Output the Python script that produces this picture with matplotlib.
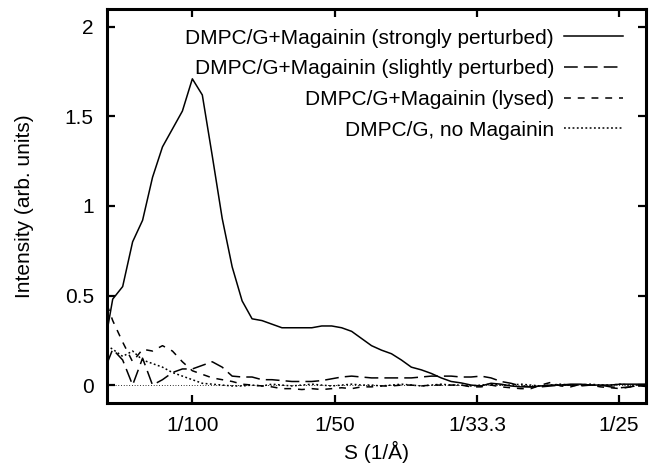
import matplotlib
matplotlib.use("Agg")
import matplotlib.pyplot as plt

plt.rcParams['font.family'] = ['Liberation Sans', 'DejaVu Sans']

# Valores (S em 1/Å)
S = [0.0040, 0.0044, 0.0051, 0.0058, 0.0065, 0.0072, 0.0079, 0.0086, 0.0093, 0.0100,
     0.0107, 0.0114, 0.0121, 0.0128, 0.0135, 0.0142, 0.0149, 0.0156, 0.0163, 0.0170,
     0.0177, 0.0184, 0.0191, 0.0198, 0.0205, 0.0212, 0.0219, 0.0226, 0.0233, 0.0240,
     0.0247, 0.0254, 0.0261, 0.0268, 0.0275, 0.0282, 0.0289, 0.0296, 0.0303, 0.0310,
     0.0317, 0.0324, 0.0331, 0.0338, 0.0345, 0.0352, 0.0359, 0.0366, 0.0373, 0.0380,
     0.0387, 0.0394, 0.0401, 0.0408, 0.0415, 0.0422]

strongly = [0.30, 0.48, 0.55, 0.80, 0.92, 1.16, 1.33, 1.43, 1.53, 1.71,
            1.62, 1.28, 0.93, 0.66, 0.47, 0.37, 0.36, 0.34, 0.32, 0.32,
            0.32, 0.32, 0.33, 0.33, 0.32, 0.30, 0.26, 0.22, 0.195, 0.175,
            0.14, 0.10, 0.085, 0.065, 0.04, 0.02, 0.012, 0.0, -0.005, 0.01,
            0.005, -0.005, -0.01, -0.01, -0.005, 0.0, 0.0, 0.005, 0.005, 0.0,
            0.0, 0.0, 0.005, 0.005, 0.005, 0.005]

slightly = [0.12, 0.20, 0.14, 0.0, 0.15, 0.0, 0.03, 0.07, 0.09, 0.09,
            0.11, 0.13, 0.10, 0.05, 0.045, 0.045, 0.03, 0.03, 0.025, 0.02,
            0.02, 0.02, 0.025, 0.035, 0.045, 0.05, 0.045, 0.04, 0.04, 0.04,
            0.04, 0.04, 0.045, 0.05, 0.05, 0.05, 0.045, 0.045, 0.05, 0.04,
            0.02, 0.01, -0.005, -0.01, -0.01, -0.005, 0.0, 0.0, -0.005, 0.0,
            0.0, -0.01, -0.015, -0.01, 0.0, 0.0]

lysed = [0.45, 0.36, 0.24, 0.13, 0.20, 0.19, 0.22, 0.19, 0.13, 0.08,
         0.06, 0.04, 0.03, 0.02, 0.005, 0.0, -0.005, -0.01, -0.02, -0.02,
         -0.025, -0.02, -0.025, -0.02, -0.015, -0.02, -0.01, -0.01, -0.005, -0.005,
         0.0, 0.0, -0.005, 0.0, 0.0, 0.0, 0.0, -0.01, -0.01, 0.0,
         -0.01, -0.015, -0.02, -0.02, 0.0, 0.015, -0.005, -0.01, 0.005, 0.0,
         -0.01, -0.015, -0.02, -0.01, -0.005, -0.01]

no_magainin = [0.22, 0.20, 0.16, 0.19, 0.14, 0.12, 0.10, 0.07, 0.05, 0.03,
               0.01, 0.005, 0.0, -0.005, -0.005, 0.0, -0.005, 0.005, 0.0, -0.005,
               0.0, 0.005, 0.0, -0.005, 0.0, 0.005, 0.0, 0.0, -0.005, 0.0,
               0.005, 0.0, -0.005, 0.0, 0.005, 0.0, 0.0, -0.005, 0.0, 0.005,
               0.0, 0.0, 0.005, 0.0, -0.005, 0.0, 0.005, 0.0, 0.0, 0.005,
               0.0, 0.0, 0.005, 0.0, 0.0, 0.005]

labels = ["DMPC/G+Magainin (strongly perturbed)",
          "DMPC/G+Magainin (slightly perturbed)",
          "DMPC/G+Magainin (lysed)",
          "DMPC/G, no Magainin"]

xticks = [1/100, 1/50, 1/33.3, 1/25]
xticklabels = ["1/100", "1/50", "1/33.3", "1/25"]
yticks = [0, 0.5, 1, 1.5, 2]
yticklabels = ["0", "0.5", "1", "1.5", "2"]

fig = plt.figure(figsize=(6.51, 4.70), dpi=100)
ax = fig.add_axes([0.1644, 0.1426, 0.9923 - 0.1644, 0.9809 - 0.1426])

# linha do zero (estilo gnuplot)
ax.axhline(0, color="black", lw=0.7, ls=(0, (0.8, 2.0)))

ax.plot(S, strongly, color="black", lw=1.1, label=labels[0])
ax.plot(S, slightly, color="black", lw=1.1, ls=(0, (9, 4)), label=labels[1])
ax.plot(S, lysed, color="black", lw=1.1, ls=(0, (4.5, 4.5)), label=labels[2])
ax.plot(S, no_magainin, color="black", lw=1.1, ls=(0, (1.2, 1.6)), label=labels[3])

ax.set_xlim(0.004, 0.0419)
ax.set_ylim(-0.1, 2.1)
ax.set_xticks(xticks)
ax.set_xticklabels(xticklabels)
ax.set_yticks(yticks)
ax.set_yticklabels(yticklabels)
ax.tick_params(direction="in", top=True, right=True, length=6, width=1.6,
               labelsize=15, pad=9.5, colors="black")
for sp in ax.spines.values():
    sp.set_linewidth(2.2)

ax.set_xlabel("S (1/Å)", fontsize=15, labelpad=4)
ax.set_ylabel("Intensity (arb. units)", fontsize=15, labelpad=22)

ax.legend(loc="upper right", bbox_to_anchor=(0.957, 0.95), frameon=False,
          markerfirst=False, fontsize=15, handlelength=2.8, handletextpad=0.5,
          labelspacing=0.56, borderpad=0, borderaxespad=0)

plt.savefig("out.png", dpi=100)
